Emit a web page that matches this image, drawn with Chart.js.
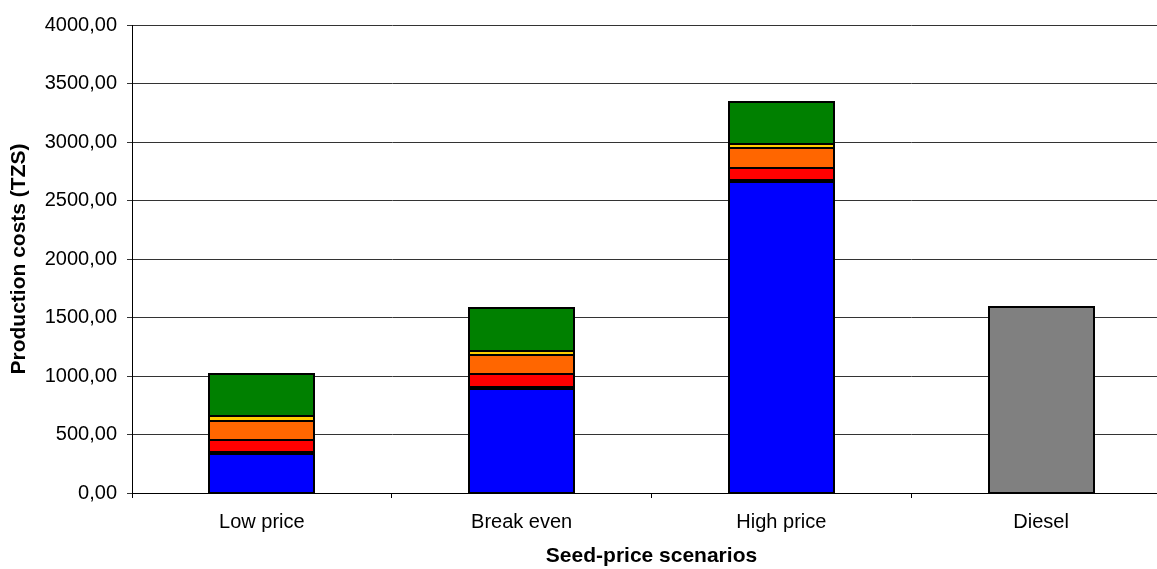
<!DOCTYPE html>
<html>
<head>
<meta charset="utf-8">
<script src="https://cdn.jsdelivr.net/npm/chart.js@4/dist/chart.umd.min.js"></script>
<style>
  html, body { margin: 0; padding: 0; background: #fff; overflow: hidden; width: 1157px; height: 569px; }
  canvas { display: block; }
</style>
</head>
<body>
<canvas id="c" width="1172" height="569"></canvas>
<script>
// Seed-price scenarios and production cost components (TZS)
const categories = ['Low price', 'Break even', 'High price', 'Diesel'];
const seedCost     = [333, 889, 2655, null];
const blackPart    = [18, 20, 18, null];
const redPart      = [104, 108, 107, null];
const orangePart   = [162, 162, 166, null];
const yellowPart   = [40, 37, 37, null];
const greenPart    = [360, 362, 356, null];
const dieselCost   = [null, null, null, 1593];
const yTicks = [0, 500, 1000, 1500, 2000, 2500, 3000, 3500, 4000];

const FONT = 'Liberation Sans, Arial, sans-serif';

function ds(data, color) {
  return {
    data: data,
    backgroundColor: color,
    borderWidth: 0,
    categoryPercentage: 1.0,
    barPercentage: 0.405
  };
}

// Crisp black outline round every bar segment, using the positions the bar elements computed
const segmentOutline = {
  id: 'segmentOutline',
  afterDatasetsDraw(chart) {
    const ctx = chart.ctx;
    ctx.save();
    ctx.strokeStyle = '#000';
    ctx.lineWidth = 2;
    chart.data.datasets.forEach((d, i) => {
      const meta = chart.getDatasetMeta(i);
      meta.data.forEach((el, j) => {
        if (d.data[j] == null) return;
        const l = Math.round(el.x - el.width / 2);
        const r = Math.round(el.x + el.width / 2);
        const t = Math.round(el.y);
        const b = Math.round(el.base);
        ctx.strokeRect(l, t, r - l, b - t);
      });
    });
    ctx.restore();
  }
};

new Chart(document.getElementById('c'), {
  type: 'bar',
  data: {
    labels: categories,
    datasets: [
      ds(seedCost, '#0000FF'),
      ds(blackPart, '#000000'),
      ds(redPart, '#FF0000'),
      ds(orangePart, '#FF6600'),
      ds(yellowPart, '#FFCC00'),
      ds(greenPart, '#008000'),
      ds(dieselCost, '#808080')
    ]
  },
  plugins: [segmentOutline],
  options: {
    responsive: false,
    animation: false,
    devicePixelRatio: 1,
    layout: { padding: { top: 25, right: 1, left: 0, bottom: 0 } },
    plugins: { legend: { display: false }, tooltip: { enabled: false } },
    scales: {
      x: {
        stacked: true,
        offset: true,
        border: { display: true, color: '#000', width: 1 },
        grid: { display: true, drawOnChartArea: false, drawTicks: true, tickLength: 5, color: '#000', offset: true },
        ticks: { color: '#000', font: { family: FONT, size: 20 }, padding: 12 },
        title: {
          display: true,
          text: 'Seed-price scenarios',
          color: '#000',
          font: { family: FONT, size: 21, weight: 'bold' },
          padding: { top: 4, bottom: 0 }
        },
        afterFit: (s) => { s.height = 76; }
      },
      y: {
        stacked: true,
        min: 0,
        max: 4000,
        afterBuildTicks: (s) => { s.ticks = yTicks.map(v => ({ value: v })); },
        border: { display: true, color: '#000', width: 1 },
        grid: { color: '#333', lineWidth: 1, tickLength: 5, drawTicks: true },
        ticks: {
          color: '#000',
          font: { family: FONT, size: 20 },
          padding: 10,
          callback: (v) => v.toFixed(2).replace('.', ',')
        },
        title: {
          display: true,
          text: 'Production costs (TZS)',
          color: '#000',
          font: { family: FONT, size: 21, weight: 'bold' },
          padding: { top: 7, bottom: 0 }
        },
        afterFit: (s) => { s.width = 132; }
      }
    }
  }
});
</script>
</body>
</html>
